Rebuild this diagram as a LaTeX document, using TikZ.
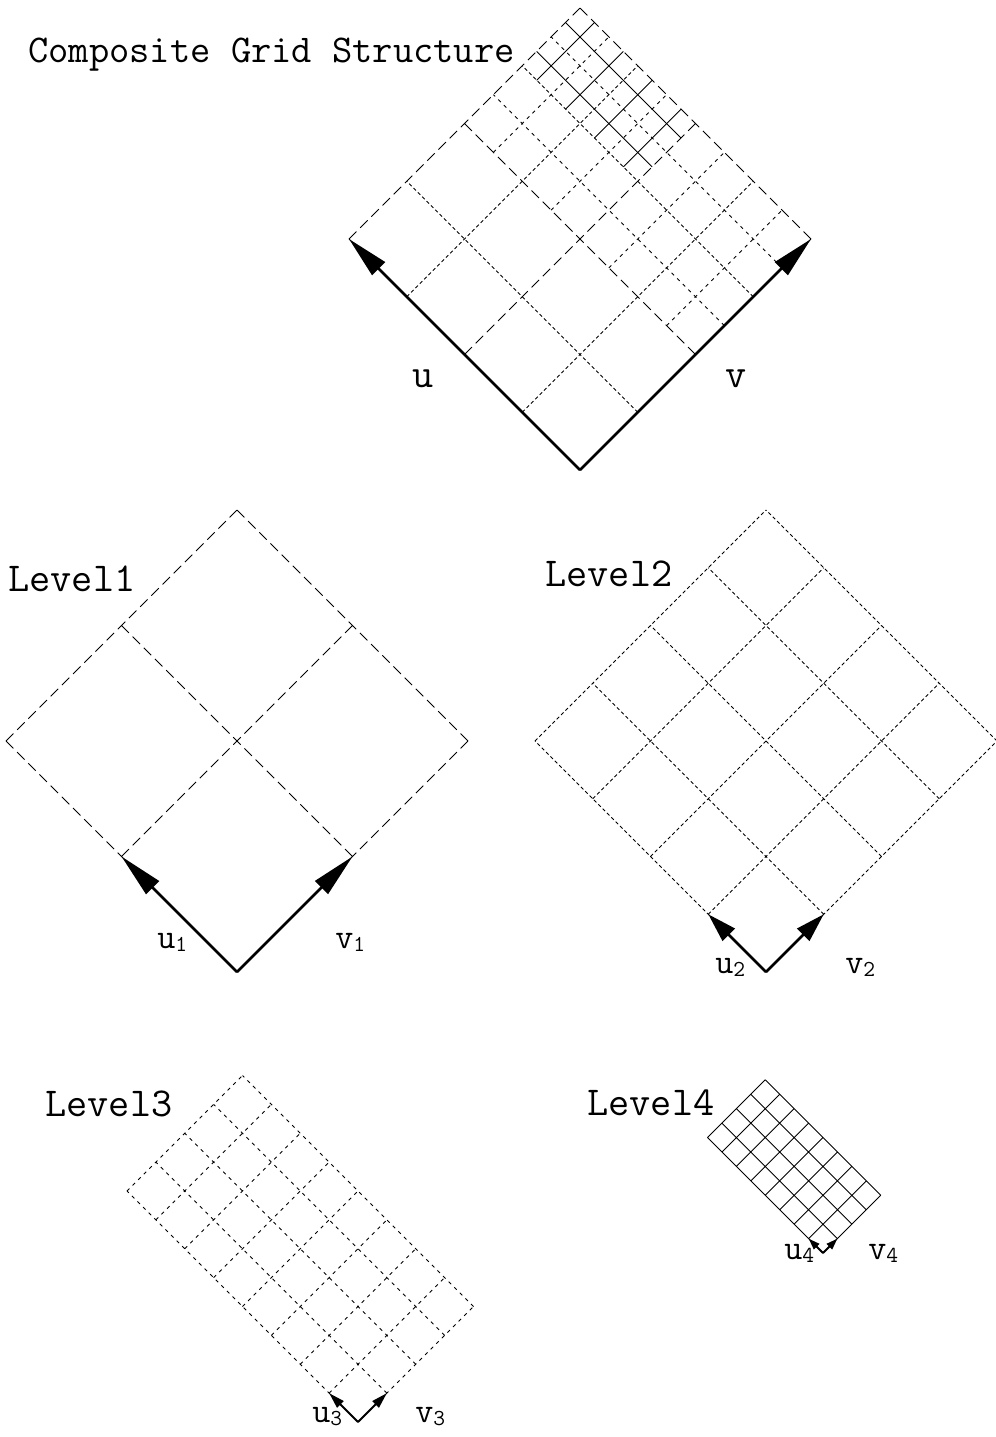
\documentclass[tikz,border=0pt]{standalone}
\usepackage{tikz}
\usetikzlibrary{arrows.meta}

\newcommand{\axlabel}[2]{#1\raisebox{-2pt}{\fontsize{13}{13}\selectfont #2}}

\begin{document}
\begin{tikzpicture}[x=0.02cm, y=-0.02cm,
        lvlone/.style={line width=0.5pt, dash pattern=on 6pt off 3pt},
        lvltwo/.style={line width=0.5pt, dash pattern=on 2pt off 1.5pt},
        lvlthree/.style={line width=0.5pt, dash pattern=on 2pt off 2.5pt},
        lvlfour/.style={line width=0.5pt},
        axisarrow/.style n args={3}{line width=#1, -{Triangle[length=#2, width=#3]}},
        headline/.style={font=\fontsize{22.4}{22}\selectfont\ttfamily, inner sep=0pt, anchor=base west},
        lbl/.style={font=\fontsize{23.4}{24}\selectfont\ttfamily, inner sep=0pt, anchor=base west},
        sublbl/.style={font=\fontsize{20}{20}\selectfont\ttfamily, inner sep=0pt, anchor=base west}]
    \useasboundingbox (0,0) rectangle (995,1437);
    % Origins
    \coordinate (o0) at (580,470);
    \coordinate (o1) at (237,972);
    \coordinate (o2) at (766,972);
    \coordinate (o3) at (358,1422);
    \coordinate (o4) at (823,1253);
    % Composite grid
    \node[headline] (title) at (28,62) {Composite Grid Structure};
    \begin{scope}[shift={(o0)}, x=1cm, y=1cm, rotate=45, scale=0.4084]
        \draw[lvlone, step=8] (0,0) grid (16,16);
        \foreach \k in {4,12} {
            \draw[lvltwo] (\k,0) -- (\k,16);
            \draw[lvltwo] (0,\k) -- (16,\k);
        }
        \foreach \k in {10,14} \draw[lvlthree] (\k,0) -- (\k,16);
        \foreach \k in {2,6,10,14} \draw[lvlthree] (8,\k) -- (16,\k);
        \foreach \k in {13,15} \draw[lvlfour] (\k,8) -- (\k,16);
        \foreach \k in {9,11,13,15} \draw[lvlfour] (12,\k) -- (16,\k);
        \coordinate (u0) at (0,16);
        \coordinate (v0) at (16,0);
    \end{scope}
    \draw[axisarrow={1.5pt}{0.84cm}{0.36cm}] (o0) -- (u0);
    \draw[axisarrow={1.5pt}{0.84cm}{0.36cm}] (o0) -- (v0);
    \node[lbl] (ulab) at (412,387) {u};
    \node[lbl] (vlab) at (725,387) {v};
    % Level 1
    \node[lbl] (lev1) at (8,591) {Level1};
    \begin{scope}[shift={(o1)}, x=1cm, y=1cm, rotate=45, scale=0.4084]
        \draw[lvlone, step=8] (0,0) grid (16,16);
        \coordinate (u1) at (0,8);
        \coordinate (v1) at (8,0);
    \end{scope}
    \draw[axisarrow={1.5pt}{0.88cm}{0.36cm}] (o1) -- (u1);
    \draw[axisarrow={1.5pt}{0.88cm}{0.36cm}] (o1) -- (v1);
    \node[sublbl] (u1lab) at (157,948) {\axlabel{u}{1}};
    \node[sublbl] (v1lab) at (335,948) {\axlabel{v}{1}};
    % Level 2
    \node[lbl] (lev2) at (545,586) {Level2};
    \begin{scope}[shift={(o2)}, x=1cm, y=1cm, rotate=45, scale=0.4084]
        \draw[lvltwo, step=4] (0,0) grid (16,16);
        \coordinate (u2) at (0,4);
        \coordinate (v2) at (4,0);
    \end{scope}
    \draw[axisarrow={1.5pt}{0.58cm}{0.34cm}] (o2) -- (u2);
    \draw[axisarrow={1.5pt}{0.58cm}{0.34cm}] (o2) -- (v2);
    \node[sublbl] (u2lab) at (715,973) {\axlabel{u}{2}};
    \node[sublbl] (v2lab) at (845,973) {\axlabel{v}{2}};
    % Level 3
    \node[lbl] (lev3) at (45,1116) {Level3};
    \begin{scope}[shift={(o3)}, x=1cm, y=1cm, rotate=45, scale=0.4084]
        \draw[lvlthree, step=2] (0,0) grid (8,16);
        \coordinate (u3) at (0,2);
        \coordinate (v3) at (2,0);
    \end{scope}
    \draw[axisarrow={1.1pt}{0.32cm}{0.18cm}] (o3) -- (u3);
    \draw[axisarrow={1.1pt}{0.32cm}{0.18cm}] (o3) -- (v3);
    \node[sublbl] (u3lab) at (312,1422) {\axlabel{u}{3}};
    \node[sublbl] (v3lab) at (415,1422) {\axlabel{v}{3}};
    % Level 4
    \node[lbl] (lev4) at (587,1115) {Level4};
    \begin{scope}[shift={(o4)}, x=1cm, y=1cm, rotate=45, scale=0.4084]
        \draw[lvlfour, step=1] (0,0) grid (4,8);
        \coordinate (u4) at (0,1);
        \coordinate (v4) at (1,0);
    \end{scope}
    \draw[axisarrow={1.1pt}{0.23cm}{0.15cm}] (o4) -- (u4);
    \draw[axisarrow={1.1pt}{0.23cm}{0.15cm}] (o4) -- (v4);
    \node[sublbl] (u4lab) at (784,1259) {\axlabel{u}{4}};
    \node[sublbl] (v4lab) at (868,1259) {\axlabel{v}{4}};
\end{tikzpicture}
\end{document}
